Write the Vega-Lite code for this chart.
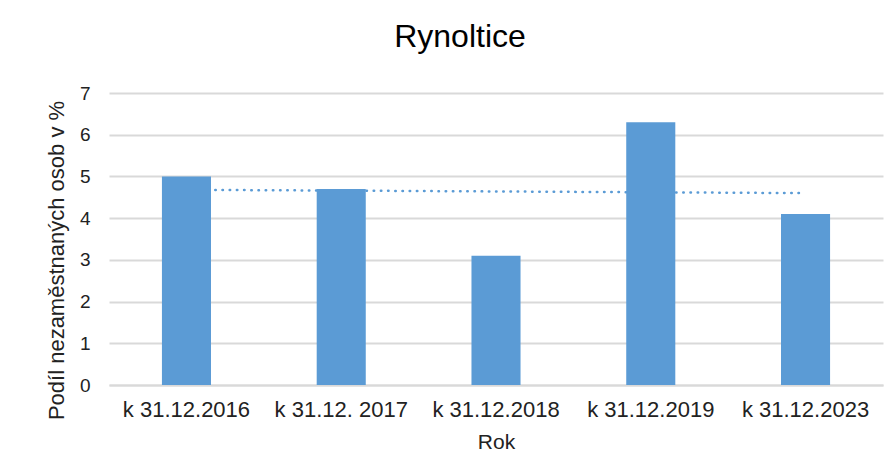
{
  "$schema": "https://vega.github.io/schema/vega-lite/v6.json",
  "width": 774,
  "height": 292,
  "autosize": {"type": "none"},
  "padding": {"left": 109, "top": 93, "right": 13, "bottom": 87},
  "background": "white",
  "title": {
    "text": "Rynoltice",
    "font": "Liberation Sans",
    "fontSize": 32,
    "fontWeight": "normal",
    "color": "#000000",
    "baseline": "alphabetic",
    "offset": 5,
    "dx": -36
  },
  "data": {
    "values": [
      {"rok": "k 31.12.2016", "podil": 5.0, "trend": 4.68},
      {"rok": "k 31.12. 2017", "podil": 4.7, "trend": 4.66},
      {"rok": "k 31.12.2018", "podil": 3.1, "trend": 4.64},
      {"rok": "k 31.12.2019", "podil": 6.3, "trend": 4.62},
      {"rok": "k 31.12.2023", "podil": 4.1, "trend": 4.60}
    ]
  },
  "encoding": {
    "x": {
      "field": "rok",
      "type": "nominal",
      "sort": null,
      "scale": {"paddingInner": 0.683, "paddingOuter": 0.342},
      "axis": {
        "title": "Rok",
        "labelAngle": 0,
        "labelFont": "Liberation Sans",
        "labelFontSize": 22,
        "labelColor": "#222222",
        "labelBaseline": "alphabetic",
        "labelPadding": 31,
        "ticks": false,
        "tickSize": 0,
        "domainColor": "#D9D9D9",
        "domainWidth": 2,
        "titleFont": "Liberation Sans",
        "titleFontSize": 21,
        "titleFontWeight": "normal",
        "titleColor": "#222222",
        "titleBaseline": "alphabetic",
        "titleY": 63
      }
    }
  },
  "layer": [
    {
      "mark": {"type": "line", "color": "#5B9BD5", "strokeWidth": 2.5, "strokeDash": [0.5, 6.7], "strokeCap": "round"},
      "encoding": {
        "y": {"field": "trend", "type": "quantitative", "scale": {"domain": [0, 7], "nice": false}, "axis": null}
      }
    },
    {
      "mark": {"type": "bar", "color": "#5B9BD5"},
      "encoding": {
        "y": {
          "field": "podil",
          "type": "quantitative",
          "scale": {"domain": [0, 7], "nice": false},
          "axis": {
            "title": "Podíl nezaměstnaných osob v %",
            "values": [0, 1, 2, 3, 4, 5, 6, 7],
            "domain": false,
            "ticks": false,
            "tickSize": 0,
            "grid": true,
            "gridColor": "#D9D9D9",
            "gridWidth": 2,
            "labelOverlap": false,
            "labelFont": "Liberation Sans",
            "labelFontSize": 19,
            "labelColor": "#222222",
            "labelPadding": 19,
            "titleFont": "Liberation Sans",
            "titleFontSize": 22,
            "titleFontWeight": "normal",
            "titleColor": "#222222",
            "titleAngle": -90,
            "titleAlign": "center",
            "titleBaseline": "middle",
            "titleX": -53,
            "titleY": 167
          }
        }
      }
    }
  ],
  "resolve": {"axis": {"y": "independent"}},
  "config": {
    "view": {"stroke": null}
  }
}
